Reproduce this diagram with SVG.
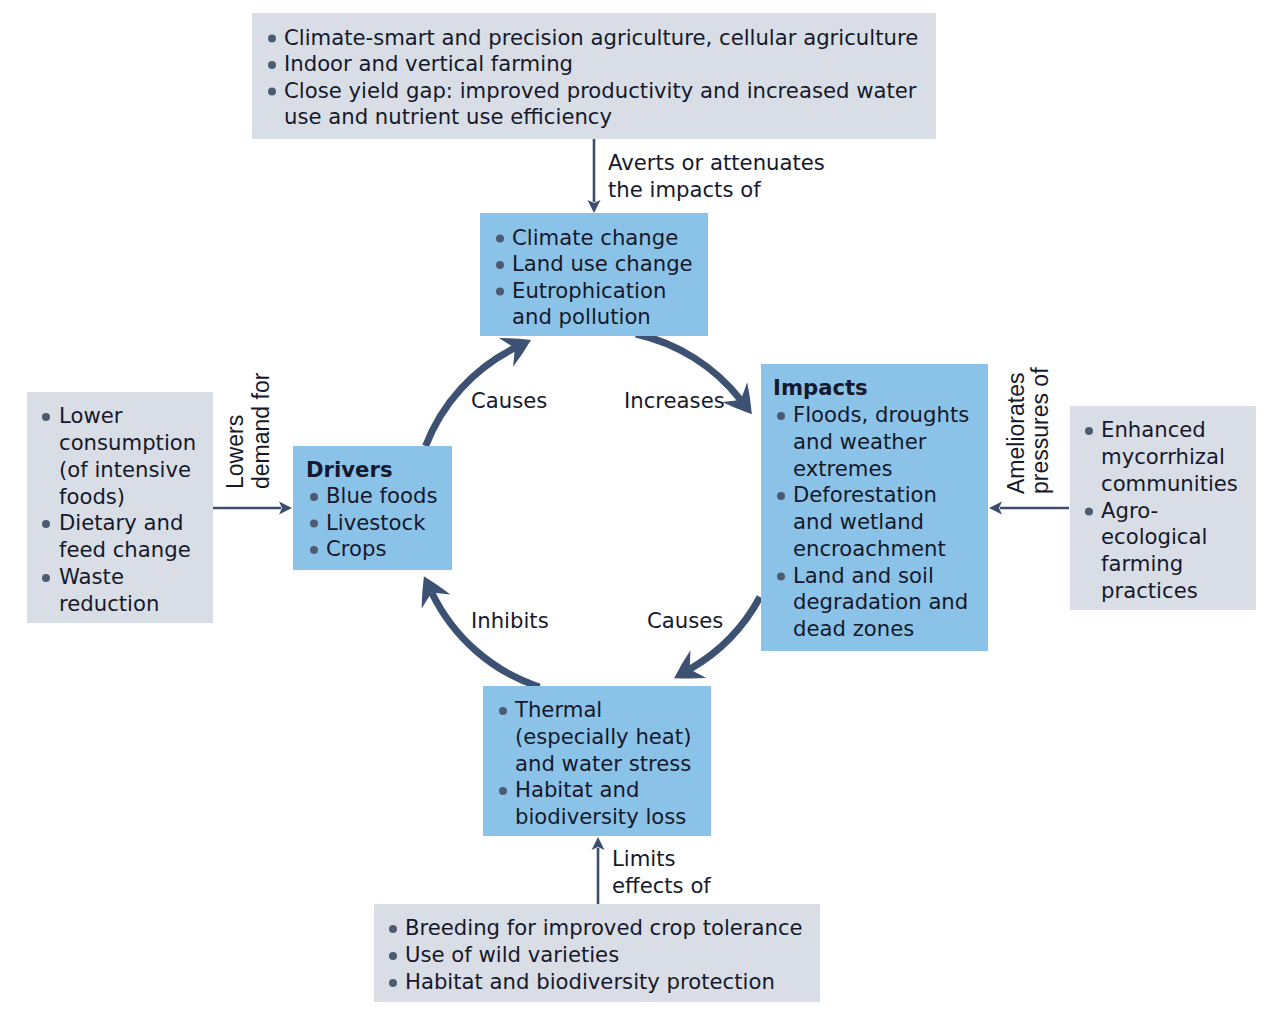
<svg xmlns="http://www.w3.org/2000/svg" width="1280" height="1030" viewBox="0 0 1280 1030">
<style>
.t{font-family:"DejaVu Sans","Noto Sans",sans-serif;font-size:21.2px;fill:#16192b}
.b{font-weight:bold}
.r{font-family:"Liberation Sans",Arial,sans-serif;font-size:23px;fill:#16192b}
.gray{fill:#d9dee6}
.blue{fill:#8bc3e8}
.dot{fill:#4d5b72}
.arc{fill:none;stroke:#3d5173;stroke-width:7}
.ln{fill:none;stroke:#3d4e6d;stroke-width:2.6}
</style>
<defs>
<marker id="big" markerUnits="userSpaceOnUse" markerWidth="50" markerHeight="50" viewBox="-25 -25 50 50" refX="0" refY="0" orient="auto">
<path d="M18,0 Q4,-9 -10,-16 L0,0 L-10,16 Q4,9 18,0 Z" fill="#3d5173"/>
</marker>
<marker id="sm" markerUnits="userSpaceOnUse" markerWidth="30" markerHeight="30" viewBox="-15 -15 30 30" refX="0" refY="0" orient="auto">
<path d="M11,0 L-2,-6.5 L1,0 L-2,6.5 Z" fill="#3d4e6d"/>
</marker>
</defs>
<rect width="1280" height="1030" fill="#ffffff"/>
<g id="connectors">
<path class="arc" d="M425.6,446 A183,183 0 0 1 514.9,347.9" marker-end="url(#big)"/>
<path class="arc" d="M635.9,334 A183,183 0 0 1 740.8,400.1" marker-end="url(#big)"/>
<path class="arc" d="M760,597 A183,183 0 0 1 689.7,669.2" marker-end="url(#big)"/>
<path class="arc" d="M539.5,687 A183,183 0 0 1 431.7,592.5" marker-end="url(#big)"/>
<path class="ln" d="M594,139 L594,202" marker-end="url(#sm)"/>
<path class="ln" d="M213,508 L281,508" marker-end="url(#sm)"/>
<path class="ln" d="M1069,508 L1000,508" marker-end="url(#sm)"/>
<path class="ln" d="M598,904 L598,848" marker-end="url(#sm)"/>
<text class="t" x="608" y="170">Averts or attenuates</text>
<text class="t" x="608" y="197">the impacts of</text>
<text class="t" x="612" y="866">Limits</text>
<text class="t" x="612" y="893">effects of</text>
<text class="t" x="471" y="408">Causes</text>
<text class="t" x="624" y="408">Increases</text>
<text class="t" x="471" y="628">Inhibits</text>
<text class="t" x="647" y="628">Causes</text>
<text class="r" transform="translate(243,489) rotate(-90)">Lowers</text>
<text class="r" transform="translate(269,489) rotate(-90)">demand for</text>
<text class="r" transform="translate(1024,494) rotate(-90)">Ameliorates</text>
<text class="r" transform="translate(1048,494) rotate(-90)">pressures of</text>
</g>
<g id="node-top-gray">
<rect class="gray" x="252" y="13" width="684" height="126"/>
<circle class="dot" cx="272" cy="38.5" r="4"/>
<circle class="dot" cx="272" cy="65" r="4"/>
<circle class="dot" cx="272" cy="91.5" r="4"/>
<text class="t" x="284" y="44.5">Climate-smart and precision agriculture, cellular agriculture</text>
<text class="t" x="284" y="71">Indoor and vertical farming</text>
<text class="t" x="284" y="97.5">Close yield gap: improved productivity and increased water</text>
<text class="t" x="284" y="124">use and nutrient use efficiency</text>
</g>
<g id="node-climate">
<rect class="blue" x="480" y="213" width="228" height="123"/>
<circle class="dot" cx="500" cy="238.5" r="4"/>
<circle class="dot" cx="500" cy="265" r="4"/>
<circle class="dot" cx="500" cy="291.5" r="4"/>
<text class="t" x="512" y="244.5">Climate change</text>
<text class="t" x="512" y="271">Land use change</text>
<text class="t" x="512" y="297.5">Eutrophication</text>
<text class="t" x="512" y="324">and pollution</text>
</g>
<g id="node-drivers">
<rect class="blue" x="293" y="446" width="159" height="124"/>
<text class="t b" x="306" y="477">Drivers</text>
<circle class="dot" cx="314" cy="497" r="4"/>
<circle class="dot" cx="314" cy="523.5" r="4"/>
<circle class="dot" cx="314" cy="550" r="4"/>
<text class="t" x="326" y="503">Blue foods</text>
<text class="t" x="326" y="529.5">Livestock</text>
<text class="t" x="326" y="556">Crops</text>
</g>
<g id="node-impacts">
<rect class="blue" x="761" y="364" width="227" height="287"/>
<text class="t b" x="773" y="395">Impacts</text>
<circle class="dot" cx="781" cy="416" r="4"/>
<circle class="dot" cx="781" cy="496" r="4"/>
<circle class="dot" cx="781" cy="576.5" r="4"/>
<text class="t" x="793" y="422">Floods, droughts</text>
<text class="t" x="793" y="449">and weather</text>
<text class="t" x="793" y="475.5">extremes</text>
<text class="t" x="793" y="502">Deforestation</text>
<text class="t" x="793" y="529">and wetland</text>
<text class="t" x="793" y="555.5">encroachment</text>
<text class="t" x="793" y="582.5">Land and soil</text>
<text class="t" x="793" y="609">degradation and</text>
<text class="t" x="793" y="636">dead zones</text>
</g>
<g id="node-thermal">
<rect class="blue" x="483" y="686" width="228" height="150"/>
<circle class="dot" cx="503" cy="711" r="4"/>
<circle class="dot" cx="503" cy="791" r="4"/>
<text class="t" x="515" y="717">Thermal</text>
<text class="t" x="515" y="744">(especially heat)</text>
<text class="t" x="515" y="770.5">and water stress</text>
<text class="t" x="515" y="797">Habitat and</text>
<text class="t" x="515" y="824">biodiversity loss</text>
</g>
<g id="node-left-gray">
<rect class="gray" x="27" y="392" width="186" height="231"/>
<circle class="dot" cx="46" cy="417" r="4"/>
<circle class="dot" cx="46" cy="524" r="4"/>
<circle class="dot" cx="46" cy="578" r="4"/>
<text class="t" x="59" y="423">Lower</text>
<text class="t" x="59" y="450">consumption</text>
<text class="t" x="59" y="477">(of intensive</text>
<text class="t" x="59" y="503.5">foods)</text>
<text class="t" x="59" y="530">Dietary and</text>
<text class="t" x="59" y="557">feed change</text>
<text class="t" x="59" y="584">Waste</text>
<text class="t" x="59" y="610.5">reduction</text>
</g>
<g id="node-right-gray">
<rect class="gray" x="1070" y="406" width="186" height="204"/>
<circle class="dot" cx="1089" cy="431" r="4"/>
<circle class="dot" cx="1089" cy="511.5" r="4"/>
<text class="t" x="1101" y="437">Enhanced</text>
<text class="t" x="1101" y="464">mycorrhizal</text>
<text class="t" x="1101" y="491">communities</text>
<text class="t" x="1101" y="517.5">Agro-</text>
<text class="t" x="1101" y="544">ecological</text>
<text class="t" x="1101" y="571">farming</text>
<text class="t" x="1101" y="598">practices</text>
</g>
<g id="node-bottom-gray">
<rect class="gray" x="374" y="904" width="446" height="98"/>
<circle class="dot" cx="393" cy="929" r="4"/>
<circle class="dot" cx="393" cy="956" r="4"/>
<circle class="dot" cx="393" cy="983" r="4"/>
<text class="t" x="405" y="935">Breeding for improved crop tolerance</text>
<text class="t" x="405" y="962">Use of wild varieties</text>
<text class="t" x="405" y="989">Habitat and biodiversity protection</text>
</g>
</svg>
